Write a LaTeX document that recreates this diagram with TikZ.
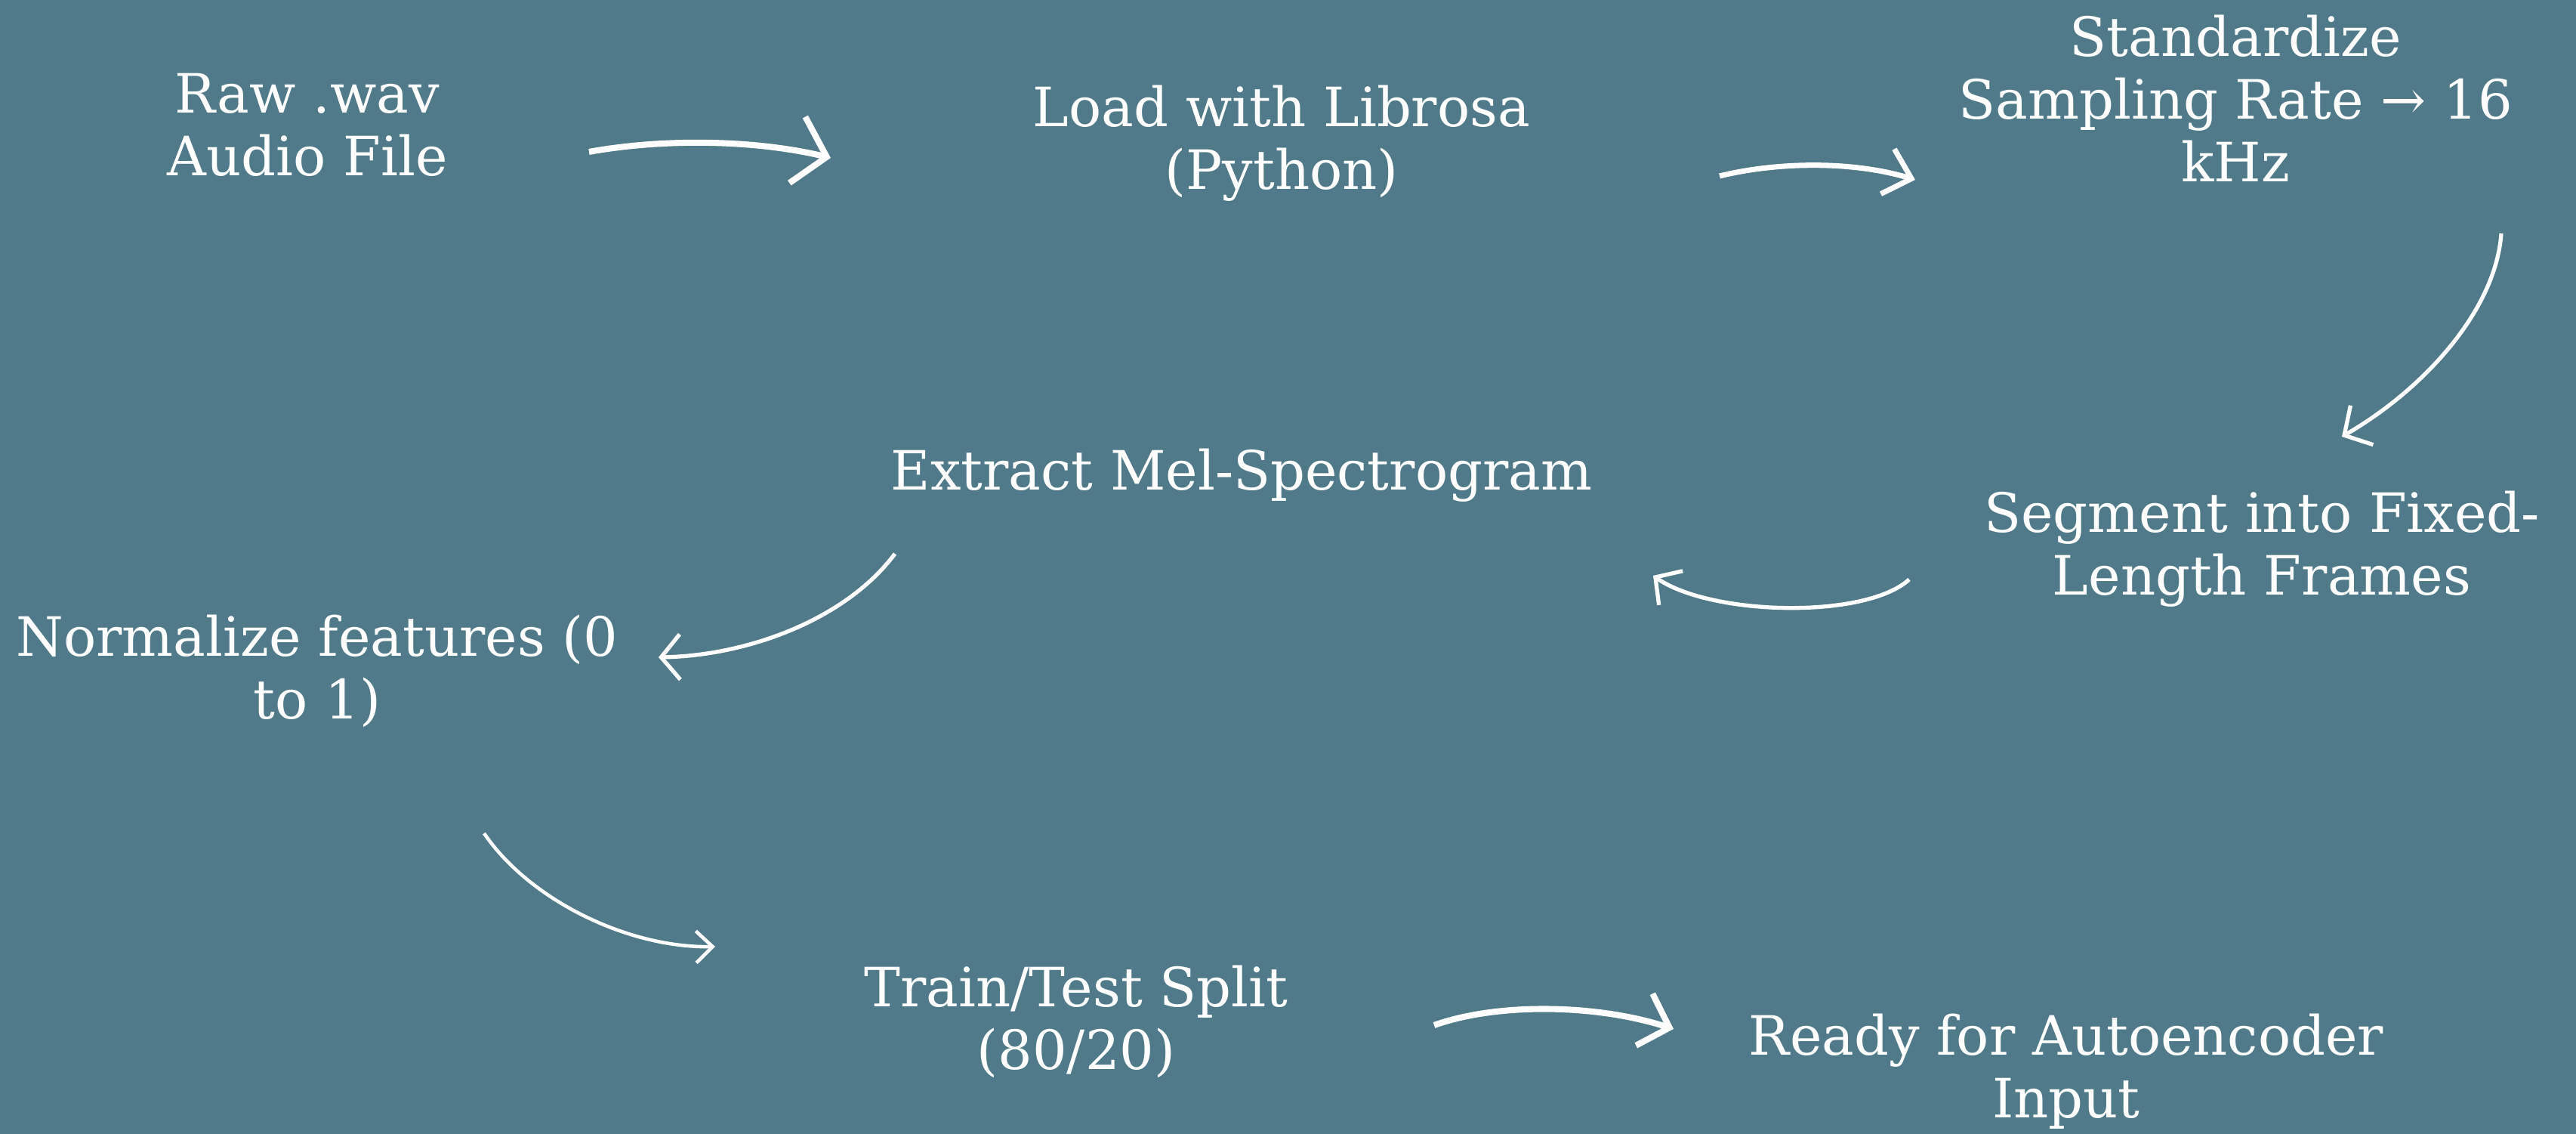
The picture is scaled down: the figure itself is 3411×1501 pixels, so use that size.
\documentclass[tikz,border=0pt]{standalone}
\usepackage{fontspec}
\setmainfont{DejaVu Serif}
\usetikzlibrary{arrows.meta}
\definecolor{bgteal}{RGB}{80,122,138}
\tikzset{
  lbl/.style={text=white, align=center, inner sep=0pt, font=\fontsize{20.4pt}{23.6pt}\selectfont},
  flow/.style={draw=white, line width=#1},
  flow/.default=1.6pt
}
\begin{document}
\begin{tikzpicture}[x=0.01cm, y=-0.01cm]
\fill[bgteal] (0,0) rectangle (3411,1501);
\useasboundingbox (0,0) rectangle (3411,1501);

\node[lbl] (raw) at (407,165) {Raw .wav\\Audio File};
\node[lbl] (load) at (1697,190) {Load with Librosa\\(Python)};
\node[lbl] (std) at (2960,130) {Standardize\\Sampling Rate → 16\\kHz};
\node[lbl] (seg) at (2995,727) {Segment into Fixed-\\Length Frames};
\node[lbl] (mel) at (1644,629) {Extract Mel-Spectrogram};
\node[lbl] (norm) at (420,888) {Normalize features (0\\to 1)};
\node[lbl] (split) at (1425,1352) {Train/Test Split\\(80/20)};
\node[lbl] (ready) at (2736,1418) {Ready for Autoencoder\\Input};

\coordinate (a1s) at (780,201);  \coordinate (a1e) at (1100,209);
\coordinate (a2s) at (2277,233); \coordinate (a2e) at (2536,238);
\coordinate (a3s) at (3312,309); \coordinate (a3e) at (3101,578);
\coordinate (a4s) at (2528,767); \coordinate (a4e) at (2189,762);
\coordinate (a5s) at (1185,733); \coordinate (a5e) at (872,870);
\coordinate (a6s) at (641,1103); \coordinate (a6e) at (947,1253);
\coordinate (a7s) at (1899,1357); \coordinate (a7e) at (2216,1362);

\draw[flow=2.3pt, -{Straight Barb[length=0.4cm,width=0.9cm]}]
  (a1s) .. controls (880,183) and (1000,185) .. (a1e);
\draw[flow=2.0pt, -{Straight Barb[length=0.33cm,width=0.62cm]}]
  (a2s) .. controls (2350,215) and (2450,212) .. (a2e);
\draw[flow=1.5pt, -{Straight Barb[length=0.27cm,width=0.6cm]}]
  (a3s) .. controls (3305,410) and (3210,515) .. (a3e);
\draw[flow=1.5pt, -{Straight Barb[length=0.25cm,width=0.55cm]}]
  (a4s) .. controls (2470,820) and (2265,815) .. (a4e);
\draw[flow=1.5pt, -{Straight Barb[length=0.25cm,width=0.6cm]}]
  (a5s) .. controls (1120,820) and (990,868) .. (a5e);
\draw[flow=1.3pt, -{Straight Barb[length=0.22cm,width=0.42cm]}]
  (a6s) .. controls (700,1190) and (830,1255) .. (a6e);
\draw[flow=2.3pt, -{Straight Barb[length=0.35cm,width=0.72cm]}]
  (a7s) .. controls (1980,1328) and (2110,1328) .. (a7e);
\end{tikzpicture}
\end{document}
